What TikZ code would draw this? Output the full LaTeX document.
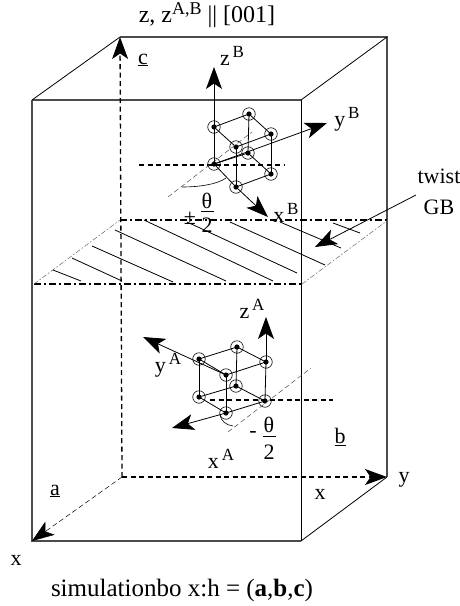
\documentclass[tikz,border=0pt]{standalone}
\usepackage{fontspec}
\setmainfont{Liberation Serif}
\usetikzlibrary{arrows.meta}
\newcommand{\supr}[1]{\raisebox{0.36em}{\fontsize{17}{19}\selectfont\,#1}}
\tikzset{
 x=1pt,y=-1pt,
 lbl/.style={inner sep=0pt,font=\fontsize{22}{25}\selectfont},
 edge/.style={draw=black!70,line width=1.1pt},
 fine/.style={draw=black,line width=0.8pt},
 dashline/.style={draw=black,line width=1.3pt,dash pattern=on 5pt off 3.5pt},
 thindash/.style={draw=black!70,line width=0.5pt,dash pattern=on 5pt off 3pt},
 dotdash/.style={draw=black,line width=1.3pt,dash pattern=on 7pt off 3pt on 2pt off 3pt},
 thindot/.style={draw=black!60,line width=0.5pt,dash pattern=on 5pt off 2pt on 1.5pt off 2pt},
 bigtip/.style={-{Stealth[length=22pt,width=16pt,inset=5.5pt]}},
 atom/.style={circle,draw=black,line width=0.6pt,minimum size=12.5pt,inner sep=0pt,fill=none,
   path picture={\fill (path picture bounding box.center) circle (2.6pt);}},
}
\begin{document}
\begin{tikzpicture}
\useasboundingbox (0,0) rectangle (460,606);
% box corners
\coordinate (ftl) at (32,100); \coordinate (ftr) at (301,100);
\coordinate (fbl) at (32,541); \coordinate (fbr) at (301,541);
\coordinate (btl) at (120,37); \coordinate (btr) at (387,37);
\coordinate (bbl) at (122,477); \coordinate (bbr) at (387,477);
\draw[edge] (ftl) -- (ftr);
\draw[edge] (fbr) -- (fbl) -- (ftl);
\draw[fine] (ftr) -- (fbr);
\draw[fine] (ftl) -- (btl);
\draw[edge] (btl) -- (btr) -- (bbr);
\draw[fine] (btr) -- (ftr);
\draw[fine] (fbr) -- (bbr);
% dashed axes
\draw[dashline,bigtip] (bbl) -- (btl);
\draw[dashline,bigtip] (bbl) -- (bbr);
\draw[thindash,draw=black,bigtip] (bbl) -- (fbl);
% GB plane
\coordinate (pfl) at (34,284); \coordinate (pfr) at (302,284);
\coordinate (pbl) at (120,220); \coordinate (pbr) at (388,220);
\draw[dotdash] (pfl) -- (pfr);
\draw[dotdash] (pbl) -- (pbr);
\draw[thindot] (pfl) -- (pbl);
\draw[thindot] (pfr) -- (pbr);
% hatch
\foreach \a/\b/\c/\d in {53/270/81/281,72/258/122/281,92/246/173/282,115/230/226/281,144/220/273/281,187/222/297/273,230/222/325/265,280/222/341/248,333/223/360/233}
  \draw[fine] (\a,\b) -- (\c,\d);
% GB arrow
\coordinate (gbs) at (416,195); \coordinate (gbe) at (315,247);
\draw[fine,bigtip] (gbs) -- (gbe);
% Cube B
\node[atom] (b1) at (214,127) {}; \node[atom] (b2) at (249,114) {};
\node[atom] (b3) at (271,134) {}; \node[atom] (b4) at (236,147) {};
\node[atom] (b5) at (214,164) {}; \node[atom] (b6) at (248,153) {};
\node[atom] (b7) at (271,174) {}; \node[atom] (b8) at (236,187) {};
\foreach \p/\q in {b1/b2,b2/b3,b3/b4,b4/b1,b5/b6,b6/b7,b7/b8,b8/b5,b1/b5,b2/b6,b3/b7,b4/b8}
  \draw[fine] (\p.center) -- (\q.center);
\coordinate (zb) at (214,67); \coordinate (yb) at (327,123); \coordinate (xb) at (268,217);
\draw[fine,bigtip] (b1.center) -- (zb);
\draw[fine,bigtip] (b5.center) -- (yb);
\draw[fine,bigtip] (b8.center) -- (xb);
\coordinate (bl) at (139,165); \coordinate (br) at (285,165);
\draw[dashline] (bl) -- (br);
\coordinate (bd1) at (168,197); \coordinate (bd2) at (252,132);
\draw[thindash] (bd1) -- (bd2);
\draw[fine,line width=0.6pt] (182,187) .. controls (200,187) and (218,184) .. (226,178);
% Cube A
\node[atom] (a1) at (199,359) {}; \node[atom] (a2) at (237,347) {};
\node[atom] (a3) at (266,362) {}; \node[atom] (a4) at (226,375) {};
\node[atom] (a5) at (199,397) {}; \node[atom] (a6) at (236,386) {};
\node[atom] (a7) at (265,401) {}; \node[atom] (a8) at (226,413) {};
\foreach \p/\q in {a1/a2,a2/a3,a3/a4,a4/a1,a5/a6,a6/a7,a7/a8,a8/a5,a1/a5,a2/a6,a3/a7,a4/a8}
  \draw[fine] (\p.center) -- (\q.center);
\coordinate (za) at (266,317); \coordinate (ya) at (143,337); \coordinate (xa) at (172,428);
\draw[fine,bigtip] (a3.center) -- (za);
\draw[fine,bigtip] (a4.center) -- (ya);
\draw[fine,bigtip] (a8.center) -- (xa);
\coordinate (al) at (210,400); \coordinate (ar) at (333,400);
\draw[dashline] (al) -- (ar);
\coordinate (ad1) at (228,432); \coordinate (ad2) at (311,368);
\draw[thindash] (ad1) -- (ad2);
\draw[fine,line width=0.6pt] (220,415) .. controls (221,421) and (226,425) .. (233,426);
% labels
\node[lbl,font=\fontsize{24}{27}\selectfont] (tz) at (207,15) {z, z\raisebox{0.36em}{\fontsize{18}{20}\selectfont A,B} || [001]};
\node[lbl] (lc) at (143,60) {\underline{c}};
\node[lbl] (lzb) at (232,56) {z\supr{B}};
\node[lbl] (lyb) at (347,119) {y\supr{B}};
\node[lbl] (lxb) at (286,213) {x\supr{B}};
\node[lbl] (ltw) at (439,176) {twist};
\node[lbl] (lgb) at (439,207) {GB};
\node[lbl] (lpm) at (190,218) {±};
\node[lbl] (lt1) at (207,201) {θ};
\draw[fine] (201,211) -- (214,211);
\node[lbl] (l21) at (207,225) {2};
\node[lbl] (lza) at (252,309) {z\supr{A}};
\node[lbl] (lya) at (168,365) {y\supr{A}};
\node[lbl] (lxa) at (221,459) {x\supr{A}};
\node[lbl] (lm) at (253,434) {-};
\node[lbl] (lt2) at (269,425) {θ};
\draw[fine] (263,436) -- (276,436);
\node[lbl] (l22) at (269,452) {2};
\node[lbl] (lb) at (340,437) {\underline{b}};
\node[lbl] (la) at (55,491) {\underline{a}};
\node[lbl] (lx1) at (320,494) {x};
\node[lbl] (ly1) at (404,480) {y};
\node[lbl] (lx2) at (16,560) {x};
\node[lbl,font=\fontsize{25}{28}\selectfont] (cap) at (182,590) {simulationbo x:h = (\textbf{a},\textbf{b},\textbf{c})};
\end{tikzpicture}
\end{document}
